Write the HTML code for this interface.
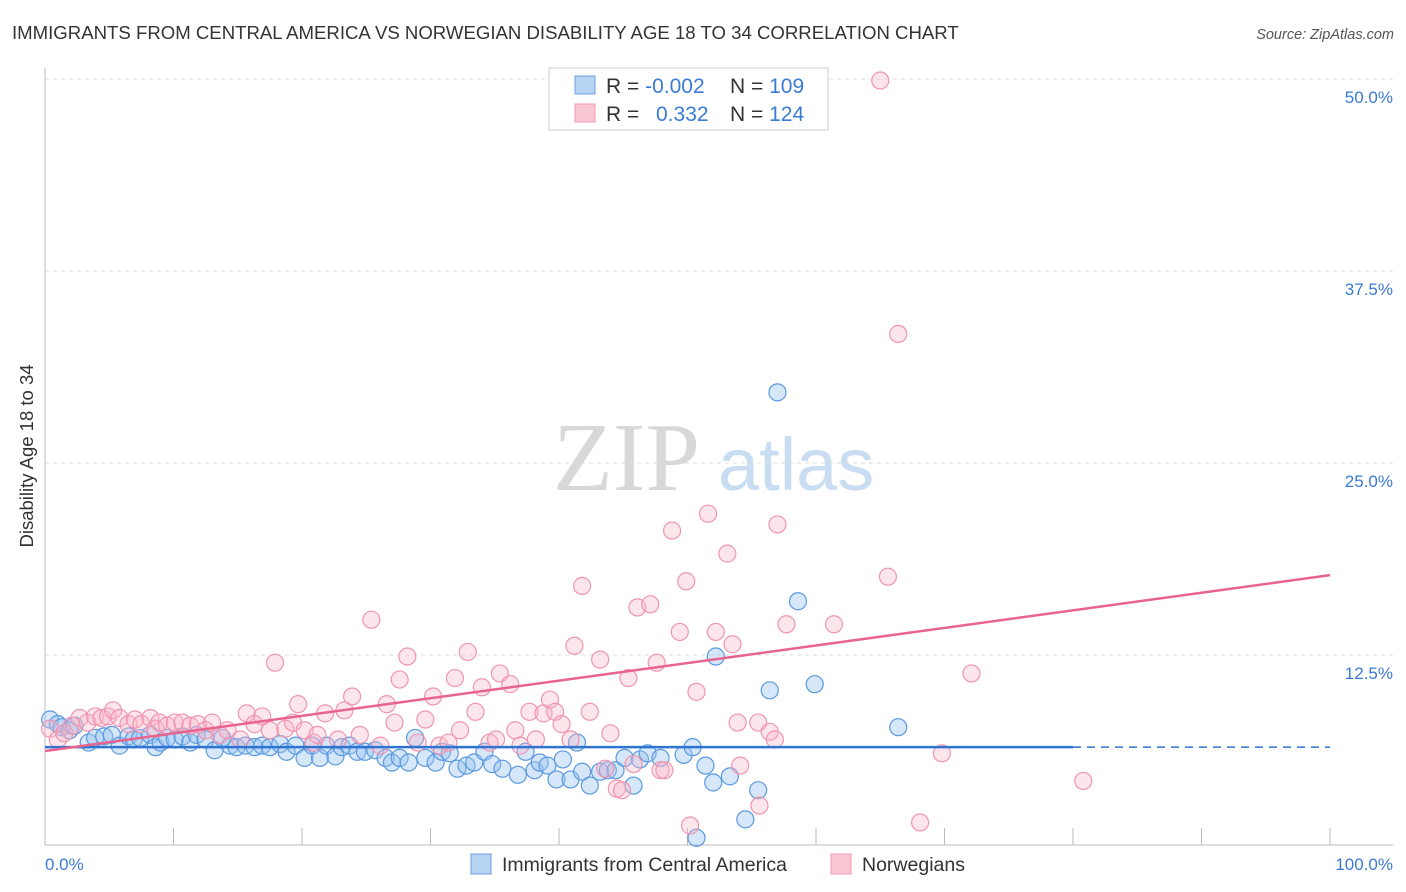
<!DOCTYPE html>
<html><head><meta charset="utf-8"><style>
body{margin:0;background:#fff;font-family:"Liberation Sans",sans-serif;}
svg{display:block}
</style></head><body>
<svg id="c" width="1406" height="892">
<text x="12" y="39" font-size="18.6" fill="#333">IMMIGRANTS FROM CENTRAL AMERICA VS NORWEGIAN DISABILITY AGE 18 TO 34 CORRELATION CHART</text>
<text x="1394" y="39" font-size="14.5" fill="#555" font-style="italic" text-anchor="end">Source: ZipAtlas.com</text>
<text x="33" y="456" font-size="18.5" fill="#333" text-anchor="middle" transform="rotate(-90 33 456)">Disability Age 18 to 34</text>
<g><text x="553" y="490" font-size="98" fill="#d8d8d8" font-family="Liberation Serif,serif">ZIP</text><text x="718" y="490" font-size="74" fill="#c8dcf2">atlas</text></g>
<g id="grid"></g><g id="axes"></g><g id="pts"></g><g id="lines"></g>
<g>
<rect x="549" y="68" width="279" height="62" fill="#fff" stroke="#ccc"/>
<rect x="575" y="76" width="20" height="18" fill="#b8d4f4" stroke="#6aa0e0"/>
<rect x="575" y="104" width="20" height="18" fill="#f9c6d4" stroke="#f09ab2"/>
<text x="606" y="93" font-size="21" fill="#333">R = <tspan fill="#3a7bd5">-0.002</tspan><tspan x="730">N = </tspan><tspan fill="#3a7bd5">109</tspan></text>
<text x="606" y="121" font-size="21" fill="#333">R = <tspan x="656" fill="#3a7bd5">0.332</tspan><tspan x="730">N = </tspan><tspan fill="#3a7bd5">124</tspan></text>
</g>
<g>
<rect x="471" y="854" width="20" height="20" fill="#b8d4f4" stroke="#6aa0e0"/>
<text x="502" y="871" font-size="19.5" fill="#333">Immigrants from Central America</text>
<rect x="831" y="854" width="20" height="20" fill="#f9c6d4" stroke="#f09ab2"/>
<text x="862" y="871" font-size="19.5" fill="#333">Norwegians</text>
</g>
</svg>
<script>
const yTicks=[12.5,25,37.5,50];
const yTickLabels=["12.5%","25.0%","37.5%","50.0%"];
const xTicks=[0,10,20,30,40,50,60,70,80,90,100];
const bx=[0.4,1.0,1.3,1.9,2.3,3.4,3.9,4.6,5.2,5.8,6.5,6.9,7.4,8.2,8.6,9.0,9.5,10.1,10.7,11.3,11.8,12.5,13.2,13.8,14.4,14.9,15.6,16.3,16.9,17.5,18.3,18.8,19.5,20.2,20.8,21.4,21.9,22.6,23.1,23.7,24.3,24.9,25.7,26.5,27.0,27.6,28.3,28.8,29.6,30.4,30.9,31.5,32.1,32.8,33.4,34.2,34.8,35.6,36.8,37.4,38.1,38.5,39.1,39.8,40.3,40.9,41.4,41.8,42.4,43.2,43.8,44.4,45.1,45.8,46.3,46.9,47.9,49.7,50.4,50.7,51.4,52.0,52.2,53.3,54.5,55.5,56.4,57.0,58.6,59.9,66.4];
const by=[8.3,8.0,7.8,7.6,7.9,6.8,7.1,7.2,7.3,6.6,7.2,7.0,7.1,7.3,6.5,6.8,7.1,7.0,7.2,6.8,7.3,7.0,6.3,7.1,6.6,6.5,6.6,6.5,6.6,6.5,6.7,6.2,6.6,5.8,6.6,5.8,6.6,5.9,6.5,6.6,6.2,6.2,6.3,5.8,5.5,5.8,5.5,7.1,5.8,5.5,6.2,6.1,5.1,5.3,5.5,6.2,5.4,5.1,4.7,6.2,5.0,5.5,5.3,4.4,5.7,4.4,6.8,4.9,4.0,4.9,5.0,5.0,5.8,4.0,5.7,6.1,5.8,6.0,6.5,0.6,5.3,4.2,12.4,4.6,1.8,3.7,10.2,29.6,16.0,10.6,7.8];
const px=[0.4,1.0,1.5,2.1,2.7,3.3,3.9,4.4,4.9,5.3,5.8,6.5,7.0,7.5,8.2,8.6,8.9,9.5,10.1,10.7,11.3,11.9,12.5,13.0,13.6,14.2,15.2,15.7,16.3,16.9,17.5,17.9,18.7,19.3,19.7,20.2,20.9,21.2,21.8,22.8,23.3,23.9,24.5,25.4,26.1,26.6,27.2,27.6,28.2,29.0,29.6,30.2,30.7,31.4,31.9,32.3,32.9,33.5,34.0,34.6,35.1,35.4,36.2,36.6,37.0,37.7,38.2,38.8,39.3,39.7,40.2,40.9,41.2,41.8,42.4,43.2,43.6,44.0,44.5,44.9,45.4,45.8,46.1,47.1,47.6,47.9,48.2,48.8,49.4,49.9,50.2,50.7,51.6,52.2,53.1,53.5,53.9,54.1,55.5,55.6,56.4,56.8,57.0,57.7,60.2,61.4,65.0,65.6,66.4,68.1,69.8,72.1,80.8];
const py=[7.7,7.0,7.4,7.9,8.4,8.1,8.5,8.4,8.5,8.9,8.4,8.0,8.3,8.0,8.4,7.7,8.1,7.9,8.1,8.1,7.9,8.0,7.6,8.1,7.3,7.6,7.0,8.7,8.0,8.5,7.6,12.0,7.7,8.1,9.3,7.6,6.8,7.3,8.7,7.0,8.9,9.8,7.3,14.8,6.6,9.3,8.1,10.9,12.4,6.8,8.3,9.8,6.6,6.8,11.0,7.6,12.7,8.8,10.4,6.8,7.0,11.3,10.6,7.6,6.6,8.8,7.0,8.7,9.6,8.8,8.0,7.0,13.1,17.0,8.8,12.2,5.1,7.4,3.8,3.7,11.0,5.4,15.6,15.8,12.0,5.0,5.0,20.6,14.0,17.3,1.4,10.1,21.7,14.0,19.1,13.2,8.1,5.3,8.1,2.7,7.5,7.0,21.0,14.5,49.9,14.5,49.9,17.6,33.4,1.6,6.1,11.3,4.3];
const blueTrend=[6.5,6.5];
const pinkTrend=[6.25,17.7];
const X=v=>45+v*12.85, Y=v=>847-v*15.36;
const NS="http://www.w3.org/2000/svg";
function mk(t,a,p){const e=document.createElementNS(NS,t);for(const k in a)e.setAttribute(k,a[k]);p.appendChild(e);return e;}
const grid=document.getElementById('grid'),axes=document.getElementById('axes'),pts=document.getElementById('pts'),lines=document.getElementById('lines');
yTicks.forEach((t,i)=>{
 const l=mk('line',{x1:45,x2:1393,y1:Y(t),y2:Y(t),stroke:'#ddd','stroke-dasharray':'4,4'},grid);
 
 
 const tx=mk('text',{x:1393,y:Y(t)+24,'font-size':17,fill:'#3a7bd5','text-anchor':'end'},grid);tx.textContent=yTickLabels[i];
 
 
});
mk('line',{x1:45,x2:45,y1:68,y2:845,stroke:'#bbb'},axes);
mk('line',{x1:45,x2:1393,y1:845,y2:845,stroke:'#bbb'},axes);
xTicks.forEach(t=>{const l=mk('line',{x1:X(t),x2:X(t),y1:828,y2:845,stroke:'#bbb'},axes);
 
 });
const x0=mk('text',{x:45,y:870,'font-size':17,fill:'#3a7bd5'},axes);x0.textContent='0.0%';


const x1=mk('text',{x:1393,y:870,'font-size':17,fill:'#3a7bd5','text-anchor':'end'},axes);x1.textContent='100.0%';


bx.forEach((v,i)=>{const c=mk('circle',{cx:X(v),cy:Y(by[i]),r:8.5,fill:'rgba(150,195,240,0.4)',stroke:'#5b9ae0','stroke-width':1.2},pts);
 
 });
px.forEach((v,i)=>{const c=mk('circle',{cx:X(v),cy:Y(py[i]),r:8.5,fill:'rgba(248,180,200,0.35)',stroke:'#f095b0','stroke-width':1.2},pts);
 
 });
const bl=mk('line',{x1:X(0),x2:X(80),y1:Y(blueTrend[0]),y2:Y(blueTrend[0]+(blueTrend[1]-blueTrend[0])*0.8),stroke:'#2f74d0','stroke-width':2.5},lines);


const bd=mk('line',{x1:X(80),x2:X(100),y1:Y(blueTrend[0]+(blueTrend[1]-blueTrend[0])*0.8),y2:Y(blueTrend[1]),stroke:'#2f74d0','stroke-width':1.5,'stroke-dasharray':'8,6'},lines);


const pl=mk('line',{x1:X(0),x2:X(100),y1:Y(pinkTrend[0]),y2:Y(pinkTrend[1]),stroke:'#e8638e','stroke-width':2.5},lines);


</script>
</body></html>
